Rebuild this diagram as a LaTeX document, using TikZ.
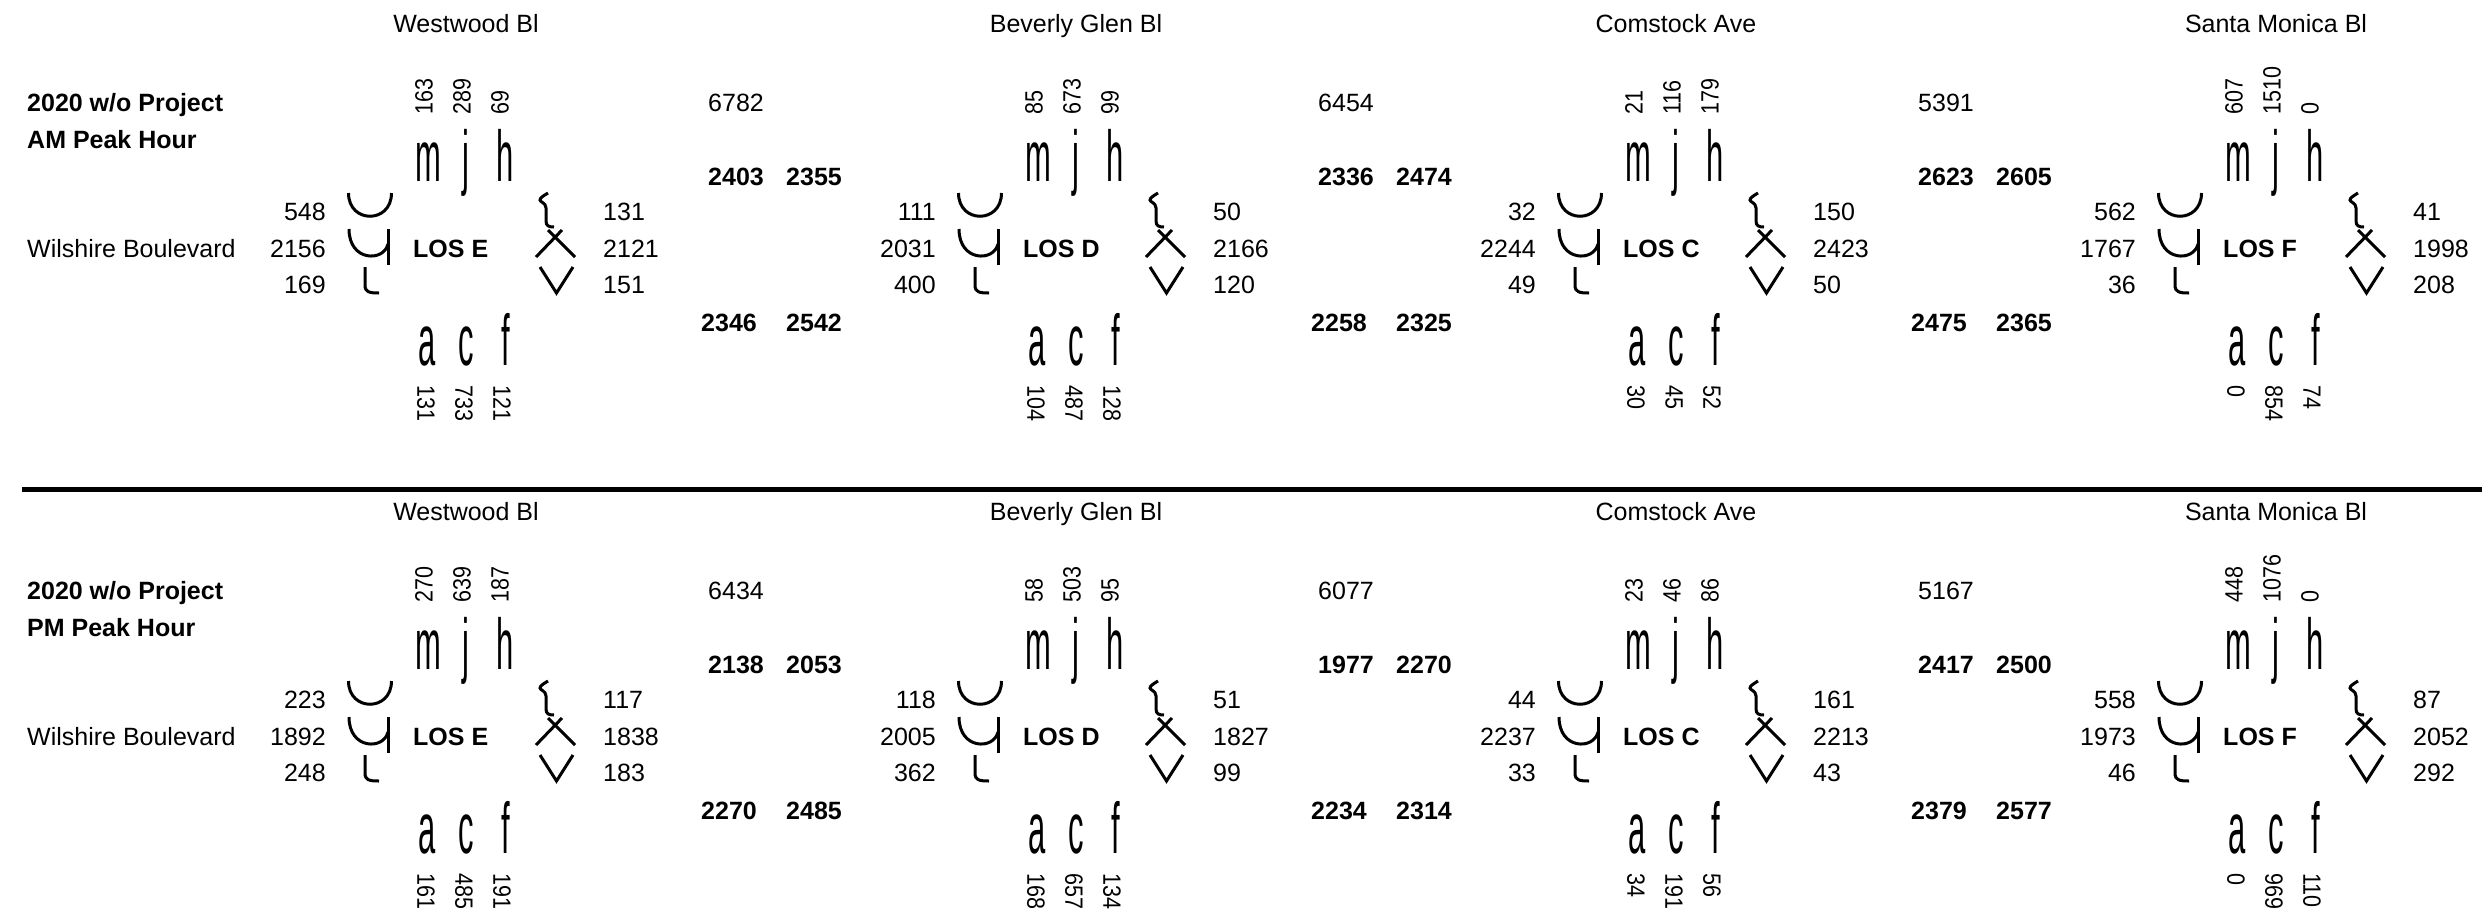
\documentclass[tikz,border=0pt]{standalone}
\usepackage{fontspec}
\setmainfont{Liberation Sans}
\begin{document}
\begin{tikzpicture}[x=1pt,y=-1pt,
  num/.style={font=\fontsize{25}{30}\selectfont, inner sep=0pt},
  bnum/.style={font=\fontsize{25}{30}\selectfont\bfseries, inner sep=0pt},
  glyph/.style={inner sep=0pt, anchor=base, font=\fontsize{72}{80}\selectfont},
  stroke/.style={line width=3pt}]
\useasboundingbox (0,0) rectangle (2482,919);
\fill[white] (0,0) rectangle (2482,919);

% titles
\node[bnum, anchor=base west] (amt1) at (27,111) {2020 w/o Project};
\node[bnum, anchor=base west] (amt2) at (27,148) {AM Peak Hour};
\node[num, anchor=base west] (amwil) at (27,257.5) {Wilshire Boulevard};
\node[bnum, anchor=base west] (pmt1) at (27,599) {2020 w/o Project};
\node[bnum, anchor=base west] (pmt2) at (27,636) {PM Peak Hour};
\node[num, anchor=base west] (pmwil) at (27,745.5) {Wilshire Boulevard};

% separator
\fill (22,487) rectangle (2482,492);

% intersections
\foreach \dx/\dy/\id/\street/\los/\ta/\tb/\tc/\ba/\bb/\bc/\la/\lb/\lc/\ra/\rb/\rc in {
0/0/aw/Westwood Bl/E/163/289/69/131/733/121/548/2156/169/131/2121/151,
610/0/ab/Beverly Glen Bl/D/85/673/99/104/487/128/111/2031/400/50/2166/120,
1210/0/ac/Comstock Ave/C/21/116/179/30/45/52/32/2244/49/150/2423/50,
1810/0/as/Santa Monica Bl/F/607/1510/0/0/854/74/562/1767/36/41/1998/208,
0/488/pw/Westwood Bl/E/270/639/187/161/485/191/223/1892/248/117/1838/183,
610/488/pb/Beverly Glen Bl/D/58/503/95/168/657/134/118/2005/362/51/1827/99,
1210/488/pc/Comstock Ave/C/23/46/86/34/191/56/44/2237/33/161/2213/43,
1810/488/ps/Santa Monica Bl/F/448/1076/0/0/969/110/558/1973/46/87/2052/292}{
\begin{scope}[shift={(\dx,\dy)}]
  \node[num, anchor=base] (\id-street) at (466,32) {\street};
  % top approach
  \node[num, rotate=90, anchor=west] (\id-t1) at (424,115) {\scalebox{0.86}[1]{\ta}};
  \node[num, rotate=90, anchor=west] (\id-t2) at (462,115) {\scalebox{0.86}[1]{\tb}};
  \node[num, rotate=90, anchor=west] (\id-t3) at (500,115) {\scalebox{0.86}[1]{\tc}};
  \node[glyph] (\id-gm) at (428,181.7) {\scalebox{0.43}[1]{m}};
  \node[glyph] (\id-gj) at (466,181.7) {\scalebox{0.43}[1]{j}};
  \node[glyph] (\id-gh) at (505,181.7) {\scalebox{0.43}[1]{h}};
  % bottom approach
  \node[glyph] (\id-ga) at (427,365) {\scalebox{0.43}[1]{a}};
  \node[glyph] (\id-gc) at (466,365) {\scalebox{0.43}[1]{c}};
  \node[glyph] (\id-gf) at (506,365) {\scalebox{0.43}[1]{f}};
  \node[num, rotate=-90, anchor=west] (\id-b1) at (426,385) {\scalebox{0.86}[1]{\ba}};
  \node[num, rotate=-90, anchor=west] (\id-b2) at (464,385) {\scalebox{0.86}[1]{\bb}};
  \node[num, rotate=-90, anchor=west] (\id-b3) at (502,385) {\scalebox{0.86}[1]{\bc}};
  % left approach
  \node[num, anchor=east] (\id-l1) at (326,212) {\la};
  \node[num, anchor=east] (\id-l2) at (326,249) {\lb};
  \node[num, anchor=east] (\id-l3) at (326,285) {\lc};
  \draw[stroke] (348.5,193) .. controls (348.5,224) and (391.5,224) .. (391.5,193);
  \draw[stroke] (349,229) .. controls (349,262) and (384,262) .. (388,244);
  \draw[stroke] (388,229) -- (388,265);
  \draw[stroke] (365,267) -- (365,285) .. controls (365,292) and (369,293) .. (379,293);
  % right approach
  \draw[stroke] (548,193) .. controls (543,196) and (540,198) .. (540,200)
     .. controls (540,202) and (546,203) .. (546,208) -- (546,221)
     .. controls (546,226) and (549,227) .. (554,227);
  \draw[stroke] (548,230) -- (575,257);
  \draw[stroke] (562,230) -- (536,257);
  \draw[stroke] (540,267) -- (556.5,293) -- (573,267);
  \node[num, anchor=west] (\id-r1) at (603,212) {\ra};
  \node[num, anchor=west] (\id-r2) at (603,249) {\rb};
  \node[num, anchor=west] (\id-r3) at (603,285) {\rc};
  % level of service
  \node[bnum, anchor=west] (\id-los) at (413,249) {LOS \los};
\end{scope}
}

% link totals between intersections
\foreach \dx/\dy/\id/\tot/\ua/\ub/\da/\db in {
0/0/am1/6782/2403/2355/2346/2542,
610/0/am2/6454/2336/2474/2258/2325,
1210/0/am3/5391/2623/2605/2475/2365,
0/488/pm1/6434/2138/2053/2270/2485,
610/488/pm2/6077/1977/2270/2234/2314,
1210/488/pm3/5167/2417/2500/2379/2577}{
\begin{scope}[shift={(\dx,\dy)}]
  \node[num, anchor=west] (\id-tot) at (708,103) {\tot};
  \node[bnum, anchor=west] (\id-ua) at (708,177) {\ua};
  \node[bnum, anchor=west] (\id-ub) at (786,177) {\ub};
  \node[bnum, anchor=west] (\id-da) at (701,323) {\da};
  \node[bnum, anchor=west] (\id-db) at (786,323) {\db};
\end{scope}
}
\end{tikzpicture}
\end{document}
